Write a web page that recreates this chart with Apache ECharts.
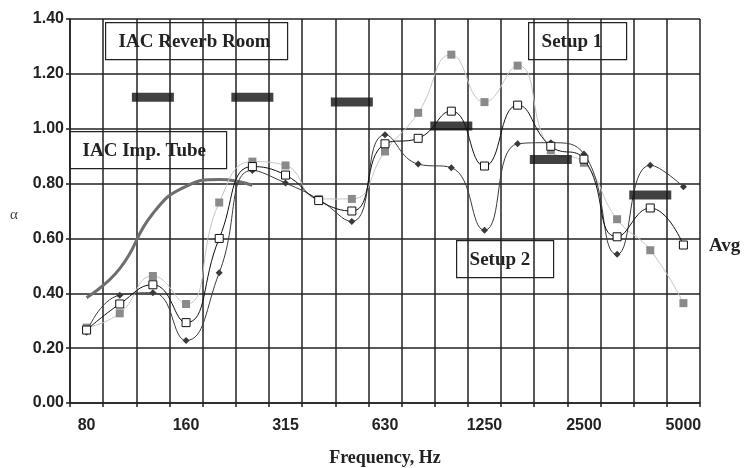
<!DOCTYPE html>
<html>
<head>
	<meta charset="utf-8">
	<title>alpha</title>
	<script src="https://cdn.jsdelivr.net/npm/echarts@6/dist/echarts.min.js"></script>
	<style>body{margin:0;background:#fff;}</style>
</head>
<body>
	<div id="main" style="width:745px;height:468px;"></div>
	<script type="text/javascript">
		// third-octave bands
		var freqs = ['80','100','125','160','200','250','315','400','500','630','800','1000','1250','1600','2000','2500','3150','4000','5000'];
		var setup1 = [0.275,0.327,0.463,0.361,0.731,0.880,0.866,0.744,0.744,0.917,1.058,1.270,1.097,1.230,0.921,0.876,0.670,0.557,0.364];
		var setup2 = [0.258,0.393,0.402,0.228,0.475,0.848,0.802,0.742,0.662,0.978,0.871,0.858,0.630,0.945,0.949,0.908,0.542,0.867,0.788];
		var avg    = [0.266,0.361,0.431,0.293,0.600,0.862,0.831,0.738,0.700,0.945,0.965,1.064,0.864,1.086,0.936,0.889,0.606,0.711,0.576];
		var impTube = [0.384,0.490,0.691,0.790,0.815,0.794,'-','-','-','-','-','-','-','-','-','-','-','-','-'];
		// octave band reverb room values
		var reverb = ['-','-',1.115,'-','-',1.115,'-','-',1.097,'-','-',1.010,'-','-',0.888,'-','-',0.758,'-'];

		var myChart = echarts.init(document.getElementById('main'));
		var serif = '"Liberation Serif", "Times New Roman", serif';
		var sans = '"Liberation Sans", Arial, sans-serif';

		function box(x, y, w, h, txt) {
			return {
				type: 'group', left: x, top: y, z: 100,
				children: [
					{type: 'rect', shape: {x: 0, y: 0, width: w, height: h}, style: {fill: '#fff', stroke: '#222', lineWidth: 1.2}},
					{type: 'text', x: 13, y: h / 2 + 1, style: {text: txt, fill: '#222', font: 'bold 19px ' + serif, align: 'left', verticalAlign: 'middle'}}
				]
			};
		}

		var option = {
			animation: false,
			grid: {left: 70, right: 45, top: 19, bottom: 65, outerBoundsMode: 'none'},
			xAxis: {
				type: 'category',
				data: freqs,
				boundaryGap: true,
				name: 'Frequency, Hz',
				nameLocation: 'middle',
				nameGap: 46,
				nameTextStyle: {fontFamily: serif, fontWeight: 'bold', fontSize: 18, color: '#222'},
				axisLine: {lineStyle: {color: '#222', width: 1.5}},
				axisTick: {show: true, interval: 0, length: 4, lineStyle: {color: '#222', width: 1.5}},
				axisLabel: {interval: 2, fontFamily: sans, fontWeight: 'bold', fontSize: 16, color: '#222', margin: 15},
				splitLine: {show: true, interval: 0, lineStyle: {color: '#222', width: 1.5}}
			},
			yAxis: {
				type: 'value',
				min: 0, max: 1.4, interval: 0.2,
				axisLine: {show: true, lineStyle: {color: '#222', width: 1.5}},
				axisTick: {show: true, length: 4, lineStyle: {color: '#222', width: 1.5}},
				axisLabel: {fontFamily: sans, fontWeight: 'bold', fontSize: 16, color: '#222', margin: 6,
					padding: [5, 0, 0, 0],
					formatter: function (v) { return v.toFixed(2); }},
				splitLine: {show: true, lineStyle: {color: '#222', width: 1.5}}
			},
			series: [
				{
					name: 'IAC Imp. Tube', type: 'line', data: impTube, smooth: 0.5,
					symbol: 'none', lineStyle: {color: '#6e6e6e', width: 3}, z: 3
				},
				{
					name: 'Setup 1', type: 'line', data: setup1, smooth: 0.5,
					symbol: 'rect', symbolSize: 8,
					itemStyle: {color: '#8a8a8a'},
					lineStyle: {color: '#c4c4c4', width: 1}, z: 4
				},
				{
					name: 'Setup 2', type: 'line', data: setup2, smooth: 0.5,
					symbol: 'diamond', symbolSize: 7,
					itemStyle: {color: '#3a3a3a'},
					lineStyle: {color: '#3a3a3a', width: 1}, z: 5
				},
				{
					name: 'Avg', type: 'line', data: avg, smooth: 0.5,
					symbol: 'rect', symbolSize: 8,
					itemStyle: {color: '#fff', borderColor: '#111', borderWidth: 1},
					lineStyle: {color: '#111', width: 1}, z: 6
				},
				{
					name: 'IAC Reverb Room', type: 'scatter', data: reverb,
					symbol: 'rect', symbolSize: [42, 9],
					itemStyle: {color: '#111'}, z: 7
				}
			],
			graphic: [
				{type: 'text', left: 10, top: 208, z: 100,
					style: {text: 'α', fill: '#444', font: '15px ' + serif}},
				box(105, 22, 182, 37, 'IAC Reverb Room'),
				box(69, 131, 157, 37, 'IAC Imp. Tube'),
				box(528, 22, 98, 37, 'Setup 1'),
				box(456, 240, 97, 37, 'Setup 2'),
				{type: 'text', left: 709, top: 237, z: 100,
					style: {text: 'Avg', fill: '#222', font: 'bold 19px ' + serif}}
			]
		};
		myChart.setOption(option);
	</script>
</body>
</html>
